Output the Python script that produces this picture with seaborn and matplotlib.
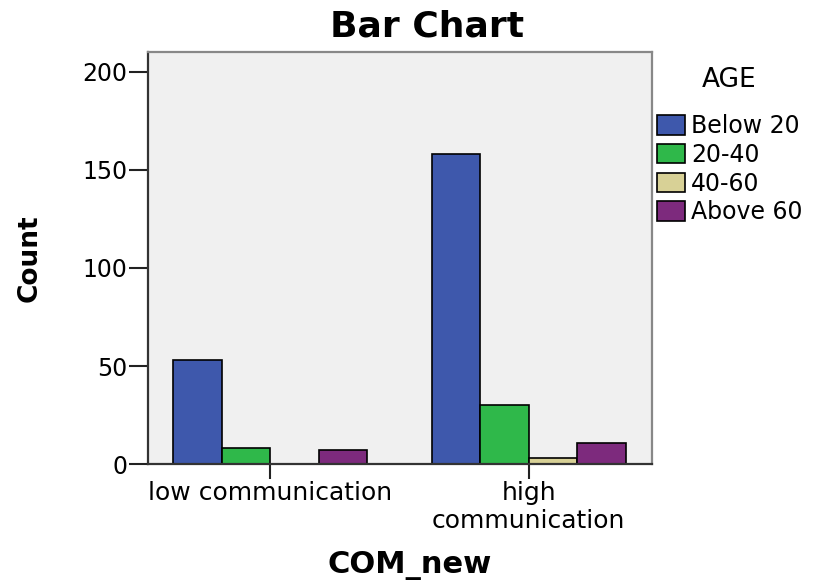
import pandas as pd
import seaborn as sns
import matplotlib.pyplot as plt

# values
categories = ["low communication", "high communication"]
tick_labels = ["low communication", "high\ncommunication"]
age_groups = ["Below 20", "20-40", "40-60", "Above 60"]
low_counts = [53, 8, None, 7]      # no 40-60 bar in the low group
high_counts = [158, 30, 3, 11]
palette = ["#3e58ac", "#2fb84a", "#d8d196", "#7d2a7d"]

rows = []
for cat, counts in zip(categories, [low_counts, high_counts]):
    for age, n in zip(age_groups, counts):
        if n is not None:
            rows.append({"COM_new": cat, "AGE": age, "Count": n})
df = pd.DataFrame(rows)

sns.set_theme(style="white")
plt.rcParams["font.family"] = ["DejaVu Sans"]
plt.rcParams["text.color"] = "black"
plt.rcParams["axes.labelcolor"] = "black"
plt.rcParams["xtick.color"] = "black"
plt.rcParams["ytick.color"] = "black"

fig = plt.figure(figsize=(8.28, 5.86), dpi=100)
ax = fig.add_axes([0.179, 0.208, 0.608, 0.703])
ax.set_facecolor("#f0f0f0")

sns.barplot(data=df, x="COM_new", y="Count", hue="AGE",
            order=categories, hue_order=age_groups, palette=palette,
            width=0.75, edgecolor="black", linewidth=1.2, saturation=1,
            ax=ax)

ax.set_xlim(-0.471, 1.475)
ax.set_ylim(0, 210)
ax.set_yticks([0, 50, 100, 150, 200])
ax.set_xticks([0, 1])
ax.set_xticklabels(tick_labels)
ax.tick_params(axis="x", labelsize=18, length=10.5, width=1.5,
               direction="out", bottom=True, color="#222222", pad=2)
ax.tick_params(axis="y", labelsize=17, length=14, width=1.5,
               direction="out", left=True, color="#222222", pad=1)
ax.spines["left"].set_color("#333333")
ax.spines["bottom"].set_color("#333333")
ax.spines["right"].set_color("#888888")
ax.spines["top"].set_color("#888888")
for s in ax.spines.values():
    s.set_linewidth(1.6)

ax.set_title("Bar Chart", fontsize=26, fontweight="bold", pad=11, x=0.553)
ax.set_ylabel("Count", fontsize=19, fontweight="bold")
ax.yaxis.set_label_coords(-0.21, 0.5)
ax.set_xlabel("COM_new", fontsize=22, fontweight="bold")
ax.xaxis.set_label_coords(0.52, -0.212)

leg = ax.legend(title="AGE", loc="upper left", bbox_to_anchor=(1.01, 0.965),
                frameon=False, fontsize=17, title_fontsize=19,
                handlelength=1.2, handleheight=0.9, handletextpad=0.25,
                labelspacing=0.2, borderpad=0, borderaxespad=0)
leg._legend_box.sep = 15.5  # extra gap between the title and the entries
for h in leg.legend_handles:
    h.set_edgecolor("black")

fig.savefig("out.png", dpi=100)
